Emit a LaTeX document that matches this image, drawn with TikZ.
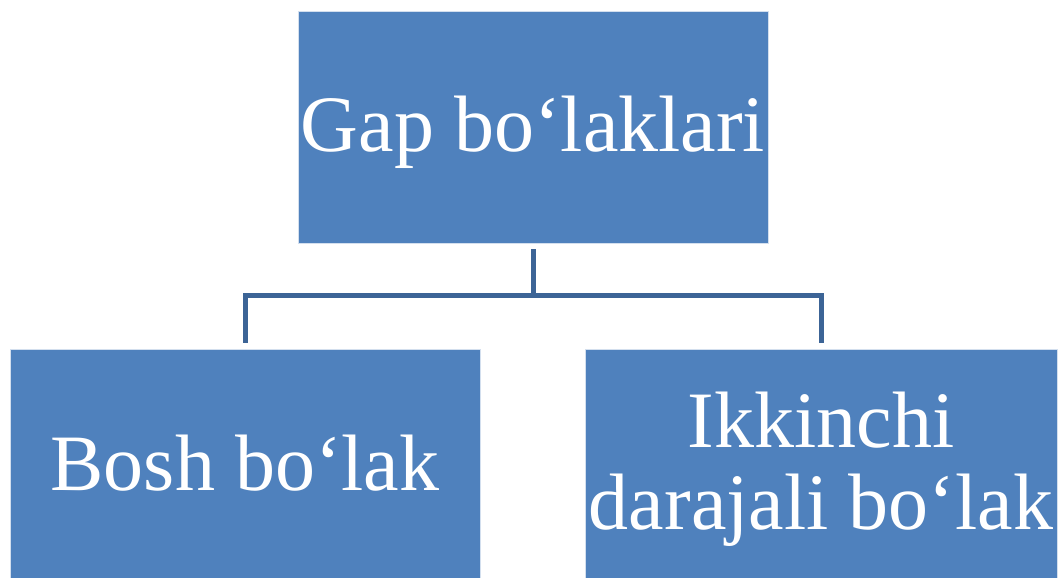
\documentclass[tikz,border=0pt]{standalone}
\usepackage{fontspec}
\setmainfont{Liberation Serif}
\usetikzlibrary{calc}
\definecolor{boxblue}{HTML}{4F81BD}
\definecolor{connblue}{HTML}{3C6496}
\newcommand{\tallstrut}{\rule{0pt}{67pt}}
\tikzset{
  box/.style={rectangle, fill=boxblue, draw=white!75!boxblue, line width=0.6pt,
    inner sep=0pt, text=white, align=center,
    font=\fontsize{80}{82}\selectfont},
  conn/.style={draw=connblue, line width=5pt, line join=miter}
}
\begin{document}
\begin{tikzpicture}[x=1pt,y=1pt]
\useasboundingbox (0,0) rectangle (1061,578);
\node[box, minimum width=470pt, minimum height=232pt] (top) at (533,451) {\tallstrut Gap bo‘laklari};
\node[box, minimum width=470pt, minimum height=229pt] (left) at (245,114.5) {Bosh bo‘lak};
\node[box, minimum width=472pt, minimum height=229pt] (right) at (821,114.5) {\tallstrut Ikkinchi\\darajali bo‘lak};
\coordinate (bar) at (533,282);
\draw[conn] ([yshift=-6pt]top.south) -- (bar);
\draw[conn] ([yshift=6pt]left.north) |- (bar) -| ([yshift=6pt]right.north);
\end{tikzpicture}
\end{document}
